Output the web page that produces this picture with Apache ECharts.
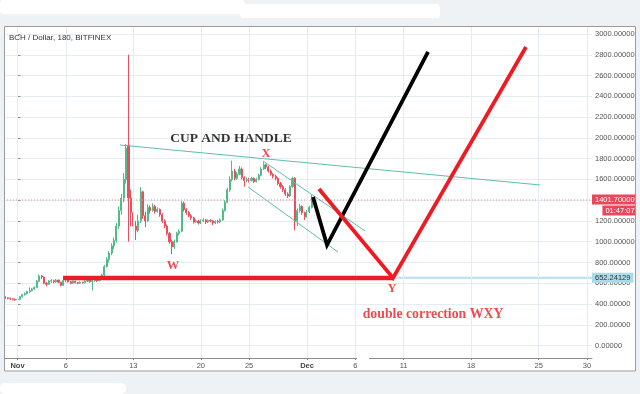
<!DOCTYPE html>
<html><head><meta charset="utf-8">
<script src="https://cdn.jsdelivr.net/npm/echarts@6.0.0/dist/echarts.min.js"></script>
<style>html,body{margin:0;padding:0;background:#fff}#c{width:640px;height:394px}</style>
</head><body><div id="c"></div><script>
// ---- data ----
const titleText = 'BCH / Dollar, 180, BITFINEX';
// time axis: days since Nov 1 00:00
const tickDays = [0, 5, 12, 19, 24, 30, 35, 40, 47, 54, 59];
const tickLabels = ['Nov', '6', '13', '20', '25', 'Dec', '6', '11', '18', '25', '30'];
const monthLabels = ['Nov', 'Dec'];
const xRange = [-1.4, 59.53];
const yRange = [-120, 3077];
const priceStep = 200;
// candles: every 6 hours starting Oct 30 12:00 (day -1.5); [open, close, low, high]
const candleStart = -1.5;
const candleStep = 0.25;
const ohlc = [
 [475,470,455,480],[470,460,450,475],[460,455,445,465],[455,450,438,462],[450,445,435,455],[445,440,430,452],
 [440,445,432,455],[445,470,440,478],[470,490,462,498],[490,500,480,510],[500,520,492,528],[520,530,505,560],
 [530,545,520,555],[545,560,535,570],[560,620,555,630],[620,670,610,685],[670,660,640,680],[660,600,590,665],
 [600,590,570,610],[590,620,585,630],[620,625,605,640],[625,615,600,635],[615,630,605,640],[630,610,600,635],
 [610,580,570,615],[580,625,575,635],[625,630,610,645],[630,615,605,635],[615,600,590,620],[600,620,595,628],
 [620,605,598,625],[605,600,590,612],[600,610,595,618],[610,605,596,615],[605,620,600,628],[620,630,612,640],
 [630,615,605,635],[615,625,530,632],[625,630,615,640],[630,625,612,638],[625,640,618,650],[640,680,635,690],
 [680,760,670,775],[760,830,750,850],[830,890,800,910],[890,960,870,985],[960,1010,930,1040],[1010,1150,990,1180],
 [1150,1300,1120,1340],[1300,1420,1260,1460],[1420,1600,1380,1660],[1600,1900,1560,1940],[1930,1420,1000,2800],[1420,1280,1150,1500],
 [1280,1150,1050,1320],[1150,1110,1016,1200],[1110,1200,1090,1260],[1200,1480,1180,1525],[1480,1250,1220,1490],[1250,1200,1140,1290],
 [1200,1330,1190,1360],[1330,1300,1270,1350],[1300,1340,1290,1370],[1340,1290,1270,1355],[1290,1310,1280,1330],[1310,1260,1240,1320],
 [1260,1200,1180,1275],[1200,1150,1130,1215],[1150,1080,1060,1165],[1080,1000,980,1095],[1000,950,880,1020],[950,1000,930,1020],
 [1000,1080,990,1095],[1080,1100,1060,1120],[1100,1370,1090,1390],[1370,1310,1290,1385],[1310,1280,1260,1325],[1280,1250,1235,1295],
 [1250,1230,1210,1265],[1230,1190,1175,1240],[1190,1200,1180,1215],[1200,1180,1165,1210],[1180,1200,1170,1215],[1200,1210,1190,1225],
 [1210,1190,1170,1220],[1190,1205,1180,1215],[1205,1200,1185,1215],[1200,1180,1160,1210],[1180,1195,1170,1205],[1195,1190,1175,1210],
 [1190,1210,1180,1225],[1210,1300,1200,1320],[1300,1380,1290,1400],[1380,1500,1370,1520],[1500,1600,1480,1630],[1600,1680,1580,1780],
 [1680,1610,1590,1700],[1610,1650,1595,1670],[1650,1700,1640,1730],[1700,1620,1600,1715],[1620,1590,1530,1630],[1590,1600,1570,1620],
 [1600,1590,1570,1615],[1590,1610,1580,1625],[1610,1580,1565,1620],[1580,1600,1570,1615],[1600,1640,1590,1655],[1640,1700,1630,1720],
 [1700,1740,1690,1765],[1740,1720,1700,1750],[1720,1680,1665,1730],[1680,1650,1635,1695],[1650,1630,1610,1660],[1630,1610,1590,1645],
 [1610,1560,1545,1620],[1560,1530,1510,1575],[1530,1500,1480,1545],[1500,1460,1440,1515],[1460,1440,1420,1475],[1440,1530,1430,1545],
 [1530,1610,1520,1625],[1610,1200,1110,1620],[1200,1300,1150,1320],[1300,1340,1280,1365],[1340,1280,1260,1350],[1280,1240,1210,1290],
 [1240,1290,1230,1305],[1290,1330,1275,1345],[1330,1420,1320,1450],[1420,1402,1390,1440]
];
const lastPrice = 1401.7;
const lastPriceText = '1401.70000';
const countdownText = '01:47:07';
const supportPrice = 652.24129;
const supportText = '652.24129';
// drawn annotations, in [day, price]
const cupRimLine = [[10.62, 1931], [54.15, 1546]];
const channelUpper = [[25.44, 1777], [36.01, 1103]];
const channelLower = [[23.89, 1527], [33.21, 900]];
const blackPath = [[30.62, 1430], [32.07, 968], [42.54, 2827]];
const redPath = [[31.24, 1507], [38.91, 650], [52.69, 2875]];
const redBase = [[4.72, 650], [38.91, 650]];
const supportStartDay = 39.3;
const noteTexts = ['CUP AND HANDLE', 'X', 'W', 'Y', 'double correction WXY'];
const notePoints = [[22.12, 1998], [25.75, 1844], [16.11, 766], [38.81, 544], [43.06, 303]];

// ---- styles ----
const RED = '#ed1c24';
const noteStyles = [
  {color: '#000', size: 13.5}, {color: RED, size: 12.5}, {color: RED, size: 12.5},
  {color: RED, size: 12.5}, {color: RED, size: 13.8}
];
const sans = 'Liberation Sans, Arial, sans-serif';
const serif = 'Liberation Serif, Times New Roman, serif';

function pathSeries(data, color, width, z) {
  return {type: 'line', data: data, symbol: 'none', silent: true, animation: false, z: z || 5,
    lineStyle: {color: color, width: width, join: 'miter', cap: 'butt'}};
}

const chart = echarts.init(document.getElementById('c'), null, {renderer: 'canvas'});
chart.setOption({
  animation: false,
  backgroundColor: '#ffffff',
  title: {text: titleText, left: 9, top: 34, padding: 0,
    textStyle: {fontFamily: sans, fontSize: 8, fontWeight: 'normal', color: '#333'}},
  grid: {left: 4, right: 48, top: 26, bottom: 36, containLabel: false},
  xAxis: {
    type: 'value', min: xRange[0], max: xRange[1],
    axisLine: {show: true, onZero: false, lineStyle: {color: '#8c8c8c', width: 1}},
    axisTick: {show: true, customValues: tickDays, length: 2, lineStyle: {color: '#8c8c8c'}},
    axisLabel: {customValues: tickDays, margin: 4, fontFamily: sans, fontSize: 7.5, color: '#555',
      formatter: function (v) {
        const i = tickDays.indexOf(v);
        if (i < 0) return '';
        const t = tickLabels[i];
        return monthLabels.indexOf(t) >= 0 ? '{m|' + t + '}' : t;
      },
      rich: {m: {fontFamily: sans, fontSize: 7.5, fontWeight: 'bold', color: '#444'}}},
    splitLine: {show: false}
  },
  yAxis: {
    type: 'value', position: 'right', min: yRange[0], max: yRange[1],
    minInterval: priceStep, maxInterval: priceStep, splitNumber: 16,
    axisLine: {show: true, lineStyle: {color: '#8c8c8c', width: 1}},
    axisTick: {show: true, length: 3, lineStyle: {color: '#8c8c8c'}},
    axisLabel: {margin: 3, fontFamily: sans, fontSize: 7.5, color: '#555',
      formatter: function (v) { return (Math.abs(v % priceStep) < 1e-6) ? v.toFixed(5) : ''; }},
    splitLine: {show: true, lineStyle: {color: '#e5edf4', width: 1}}
  },
  graphic: [
    {type: 'rect', shape: {x: 0, y: 0, width: 640, height: 26}, style: {fill: '#eff2f5'}, silent: true, z: 100},
    {type: 'rect', shape: {x: 0, y: 0, width: 4, height: 394}, style: {fill: '#eff2f5'}, silent: true, z: 100},
    {type: 'rect', shape: {x: 636, y: 0, width: 4, height: 394}, style: {fill: '#eff2f5'}, silent: true, z: 100},
    {type: 'rect', shape: {x: 0, y: 371, width: 640, height: 23}, style: {fill: '#eff2f5'}, silent: true, z: 100},
    {type: 'rect', shape: {x: 0, y: 0, width: 245, height: 14, r: 4}, style: {fill: '#ffffff'}, silent: true, z: 101},
    {type: 'rect', shape: {x: 240, y: 4, width: 200, height: 14, r: 4}, style: {fill: '#ffffff'}, silent: true, z: 101},
    {type: 'rect', shape: {x: 0, y: 383, width: 126, height: 11, r: 5}, style: {fill: '#ffffff'}, silent: true, z: 101},
    {type: 'rect', shape: {x: 4.5, y: 26.5, width: 631, height: 344.5}, style: {fill: 'none', stroke: '#9b9b9b', lineWidth: 1}, silent: true, z: 102},
    {type: 'rect', shape: {x: 357, y: 355.5, width: 12, height: 5}, style: {fill: '#ffffff'}, silent: true, z: 102}
  ],
  series: [
    {type: 'line', data: [], silent: true, z: 1,
      markLine: {silent: true, symbol: ['none', 'none'], animation: false, label: {show: false},
        lineStyle: {color: '#e5edf4', width: 1, type: 'solid'},
        data: tickDays.map(function (d) { return {xAxis: d}; })}},
    {type: 'candlestick', z: 3, barWidth: 1.6,
      data: ohlc.map(function (r, i) { return [candleStart + i * candleStep, r[0], r[1], r[2], r[3]]; }),
      encode: {x: 0, y: [1, 2, 3, 4]},
      itemStyle: {color: '#53b987', color0: '#eb4d5c', borderColor: '#53b987', borderColor0: '#eb4d5c', borderWidth: 1}},
    {type: 'line', z: 4, silent: true, symbol: 'none',
      data: [[xRange[0], lastPrice], [xRange[1], lastPrice]],
      lineStyle: {color: '#f08a98', width: 1, type: [1, 2]},
      endLabel: {show: true, distance: 0, offset: [0, 5],
        formatter: '{a|' + lastPriceText + '}\n{b|' + countdownText + '}',
        rich: {
          a: {backgroundColor: '#e9475b', color: '#fff', fontFamily: sans, fontSize: 7.5, padding: [1, 3, 1, 3], lineHeight: 11, align: 'right'},
          b: {backgroundColor: '#e9475b', color: '#fff', fontFamily: sans, fontSize: 7.5, padding: [1, 3, 1, 3], lineHeight: 11, align: 'right'}
        }}},
    {type: 'line', z: 4, silent: true, symbol: 'none',
      data: [[supportStartDay, supportPrice], [xRange[1], supportPrice]],
      lineStyle: {color: '#b4dfea', width: 2},
      endLabel: {show: true, distance: 0, formatter: supportText, backgroundColor: '#a9dbe8',
        color: '#333', fontFamily: sans, fontSize: 7.5, padding: [1, 3, 1, 3]}},
    pathSeries(redBase, RED, 4.5, 6),
    pathSeries(cupRimLine, '#5dbfab', 1, 6),
    pathSeries(channelUpper, '#5dbfab', 1, 6),
    pathSeries(channelLower, '#5dbfab', 1, 6),
    pathSeries(blackPath, '#000000', 3.8, 7),
    pathSeries(redPath, RED, 3.8, 7),
    {type: 'scatter', z: 10, silent: true, symbolSize: 0,
      data: noteTexts.map(function (t, i) {
        return {name: t, value: notePoints[i],
          label: {color: noteStyles[i].color, fontSize: noteStyles[i].size}};
      }),
      label: {show: true, position: 'inside', formatter: '{b}', fontFamily: serif, fontWeight: 'bold'}}
  ]
});
</script></body></html>
